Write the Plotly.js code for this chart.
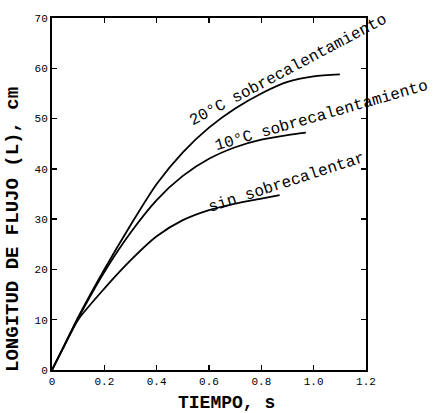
<!DOCTYPE html>
<html>
<head>
<meta charset="utf-8">
<script src="https://cdn.plot.ly/plotly-3.0.1.min.js"></script>
<style>html,body{margin:0;padding:0;background:#fff;}</style>
</head>
<body>
<div id="chart" style="width:434px;height:413px;"></div>
<script>
// Data
const timeTop = [0, 0.05, 0.1, 0.2, 0.3, 0.4, 0.5, 0.6, 0.7, 0.8, 0.9, 1.0, 1.1];
const lenTop  = [0, 5.2, 10.5, 20, 28.8, 37, 43.3, 48.2, 52, 55, 57.3, 58.4, 58.8];

const timeMid = [0, 0.05, 0.1, 0.2, 0.3, 0.4, 0.5, 0.6, 0.7, 0.8, 0.9, 0.97];
const lenMid  = [0, 5.2, 10.3, 19.5, 27.3, 33.8, 38.6, 42, 44.3, 45.8, 46.7, 47.2];

const timeSin = [0, 0.05, 0.1, 0.2, 0.3, 0.4, 0.5, 0.6, 0.7, 0.8, 0.87];
const lenSin  = [0, 5.1, 10, 16.2, 21.8, 26.6, 29.8, 31.8, 33.1, 34.1, 34.8];

const labelTop = "20°C sobrecalentamiento";
const labelMid = "10°C sobrecalentamiento";
const labelSin = "sin sobrecalentar";

const xTickVals = [0, 0.2, 0.4, 0.6, 0.8, 1.0, 1.2];
const xTickText = ["0", "0.2", "0.4", "0.6", "0.8", "1.0", "1.2"];
const yTickVals = [0, 10, 20, 30, 40, 50, 60, 70];
const yTickText = ["0", "10", "20", "30", "40", "50", "60", "70"];

const FONT = "Liberation Mono, Courier New, monospace";

const lineStyle = {color: "#000", width: 1.8, shape: "spline", smoothing: 0.7};

const traces = [
  {x: timeTop, y: lenTop, mode: "lines", line: lineStyle, hoverinfo: "none"},
  {x: timeMid, y: lenMid, mode: "lines", line: lineStyle, hoverinfo: "none"},
  {x: timeSin, y: lenSin, mode: "lines", line: lineStyle, hoverinfo: "none"}
];

const axisCommon = {
  showgrid: false, zeroline: false, showline: true, linecolor: "#000", linewidth: 2,
  mirror: "ticks", ticks: "inside", ticklen: 5, tickwidth: 1.5, tickcolor: "#000",
  tickfont: {family: FONT, size: 11, color: "#000"}
};

const layout = {
  width: 434, height: 413,
  margin: {l: 52, r: 68, t: 18, b: 43},
  paper_bgcolor: "#fff", plot_bgcolor: "#fff",
  showlegend: false,
  font: {family: FONT, color: "#000"},
  xaxis: Object.assign({}, axisCommon, {range: [0, 1.2], tickvals: xTickVals, ticktext: xTickText}),
  yaxis: Object.assign({}, axisCommon, {range: [0, 70], tickvals: yTickVals, ticktext: yTickText}),
  annotations: [
    {text: labelTop, xref: "x", yref: "y", x: 0.905, y: 59.6, textangle: -28, showarrow: false,
     font: {family: FONT, size: 16, color: "#000"}},
    {text: labelMid, xref: "x", yref: "y", x: 1.03, y: 50.6, textangle: -16, showarrow: false,
     font: {family: FONT, size: 16, color: "#000"}},
    {text: labelSin, xref: "x", yref: "y", x: 0.895, y: 37.2, textangle: -18, showarrow: false,
     font: {family: FONT, size: 16, color: "#000"}},
    {text: "<b>LONGITUD DE FLUJO (L), cm</b>", xref: "paper", yref: "paper", x: -0.125, y: 0.40,
     xanchor: "center", yanchor: "middle", textangle: -90, showarrow: false,
     font: {family: FONT, size: 19, color: "#000"}},
    {text: "<b>TIEMPO, s</b>", xref: "paper", yref: "paper", x: 0.555, y: -0.095,
     xanchor: "center", yanchor: "middle", showarrow: false,
     font: {family: FONT, size: 18, color: "#000"}}
  ]
};

Plotly.newPlot("chart", traces, layout, {staticPlot: true, displayModeBar: false});
</script>
</body>
</html>
